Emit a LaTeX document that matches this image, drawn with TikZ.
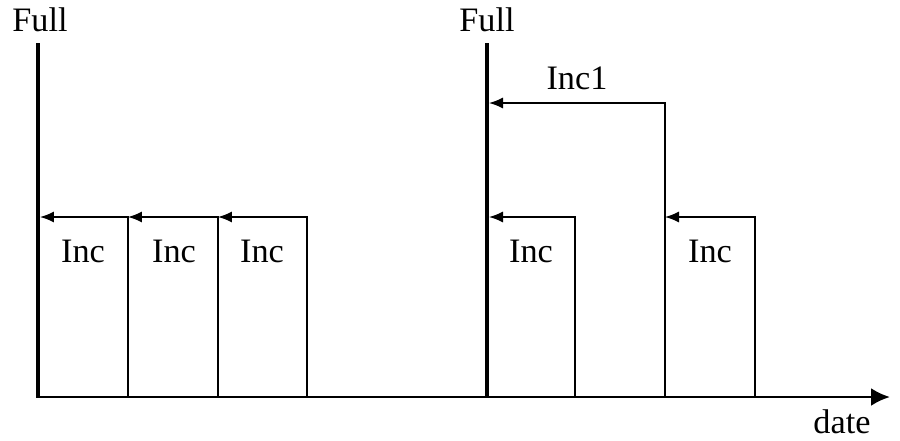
\documentclass[tikz,border=0pt]{standalone}
\usepackage{fontspec}
\setmainfont{Liberation Serif}
\usetikzlibrary{arrows.meta}
\tikzset{
	fullline/.style={line width=2.2pt},
	axisline/.style={line width=1.6pt, -{Latex[length=3.8mm,width=3.6mm]}},
	incline/.style={line width=0.8pt, -{Latex[length=2.8mm,width=2.2mm]}},
	lab/.style={anchor=base, inner sep=0pt, font=\fontsize{19.5}{22}\selectfont}
}
\begin{document}
\begin{tikzpicture}[x=0.02cm, y=-0.02cm]
			%%%%% START %%%%%
			\useasboundingbox (0, 0) rectangle (900, 440);
			
			% time axis
			\coordinate (o) at (36, 397);
			\coordinate (tip) at (890, 397);
			\draw[axisline] (o) -- (tip);
			\node[lab] (date) at (842, 433) {date};
			
			% full backups
			\coordinate (f1top) at (38, 43);
			\coordinate (f1bot) at (38, 397);
			\draw[fullline] (f1top) -- (f1bot);
			\node[lab] (full1) at (40, 31) {Full};
			
			\coordinate (f2top) at (487, 43);
			\coordinate (f2bot) at (487, 397);
			\draw[fullline] (f2top) -- (f2bot);
			\node[lab] (full2) at (487, 31) {Full};
			
			% incrementals after first full
			\coordinate (a1) at (40, 217);
			\coordinate (b1) at (128, 397);
			\coordinate (a2) at (128, 217);
			\coordinate (b2) at (218, 397);
			\coordinate (a3) at (218, 217);
			\coordinate (b3) at (307, 397);
			\draw[incline] (b1) |- (a1);
			\draw[incline] (b2) |- (a2);
			\draw[incline] (b3) |- (a3);
			\node[lab] (inc1) at (83, 262) {Inc};
			\node[lab] (inc2) at (174, 262) {Inc};
			\node[lab] (inc3) at (262, 262) {Inc};
			
			% incrementals after second full
			\coordinate (c1) at (489, 103);
			\coordinate (d1) at (665, 397);
			\draw[incline] (d1) |- (c1);
			\node[lab] (incone) at (577, 89) {Inc1};
			
			\coordinate (c2) at (489, 217);
			\coordinate (d2) at (575, 397);
			\draw[incline] (d2) |- (c2);
			\node[lab] (inc4) at (531, 262) {Inc};
			
			\coordinate (c3) at (665, 217);
			\coordinate (d3) at (755, 397);
			\draw[incline] (d3) |- (c3);
			\node[lab] (inc5) at (710, 262) {Inc};
			%%%%% END %%%%%
\end{tikzpicture}
\end{document}
